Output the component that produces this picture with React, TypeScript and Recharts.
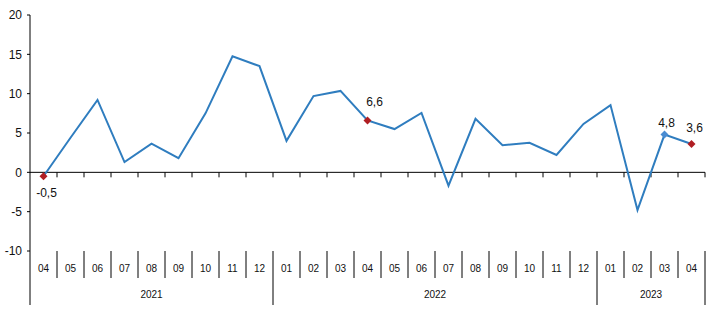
import React from 'react';
import { LineChart, Line, XAxis, YAxis, ReferenceLine } from 'recharts';

const categories = [
  '2021-04', '2021-05', '2021-06', '2021-07', '2021-08', '2021-09', '2021-10', '2021-11', '2021-12',
  '2022-01', '2022-02', '2022-03', '2022-04', '2022-05', '2022-06', '2022-07', '2022-08', '2022-09',
  '2022-10', '2022-11', '2022-12', '2023-01', '2023-02', '2023-03', '2023-04',
];
const values = [
  -0.5, 4.4, 9.2, 1.3, 3.65, 1.8, 7.5, 14.75, 13.5,
  4.0, 9.7, 10.35, 6.6, 5.5, 7.55, -1.7, 6.8, 3.45,
  3.75, 2.2, 6.15, 8.55, -4.8, 4.8, 3.6,
];
const highlighted = ['2021-04', '2022-04', '2023-03', '2023-04'];
const yTicks = [-10, -5, 0, 5, 10, 15, 20];

const data = categories.map((cat, i) => ({ cat, value: values[i] }));

const W = 717;
const H = 312;
const MARGIN = { top: 15, right: 12, bottom: 0, left: 0 };
const Y_AXIS_W = 30;
const X_AXIS_H = 61;
const PLOT_W = W - MARGIN.left - MARGIN.right - Y_AXIS_W;
const PLOT_BOTTOM = H - MARGIN.bottom - X_AXIS_H;
const BAND = PLOT_W / categories.length;
const FONT = 'Arial, "Liberation Sans", sans-serif';
const LINE_COLOR = '#2F7DBF';
const RED = '#B01E23';
const BLUE = '#4A8CD2';

// per-point label tweaks
const markerStyle: Record<string, { color: string; dx: number; dy: number }> = {
  '2021-04': { color: RED, dx: 3, dy: 17 },
  '2022-04': { color: RED, dx: 7, dy: -18 },
  '2023-03': { color: BLUE, dx: 2, dy: -12 },
  '2023-04': { color: RED, dx: 3, dy: -16 },
};

const fmt = (v: number) => v.toFixed(1).replace('.', ',');

function Dot(props: any) {
  const { cx, cy, payload } = props;
  if (!highlighted.includes(payload.cat)) return <g />;
  const s = markerStyle[payload.cat];
  const r = 4;
  return (
    <g>
      <path d={`M${cx},${cy - r}L${cx + r},${cy}L${cx},${cy + r}L${cx - r},${cy}Z`} fill={s.color} />
      <text x={cx + s.dx} y={cy + s.dy} textAnchor="middle" dominantBaseline="central" fontSize={12} fontFamily={FONT} fill="#111">
        {fmt(payload.value)}
      </text>
    </g>
  );
}

function MonthTick(props: any) {
  const { x, payload } = props;
  const index = payload.index;
  const [year, month] = categories[index].split('-');
  const last = index === categories.length - 1;
  const yearEnd = last || categories[index + 1].split('-')[0] !== year;
  const yearStart = index === 0 || categories[index - 1].split('-')[0] !== year;
  const count = categories.filter((c) => c.startsWith(year)).length;
  const top = PLOT_BOTTOM;
  return (
    <g>
      <text x={x} y={top + 17} textAnchor="middle" dominantBaseline="central" fontSize={10} fontFamily={FONT} fill="#111">
        {month}
      </text>
      {index === 0 && <line x1={x - BAND / 2} x2={x - BAND / 2} y1={top} y2={top + 54} stroke="#000" />}
      <line x1={x + BAND / 2} x2={x + BAND / 2} y1={top} y2={yearEnd ? top + 54 : top + 27} stroke="#000" />
      {yearStart && (
        <text x={x - BAND / 2 + (count * BAND) / 2} y={top + 43} textAnchor="middle" dominantBaseline="central" fontSize={10} fontFamily={FONT} fill="#111">
          {year}
        </text>
      )}
    </g>
  );
}

function ZeroAxis(props: any) {
  const { x1, x2, y1 } = props;
  const n = categories.length;
  const step = (x2 - x1) / n;
  return (
    <g>
      <line x1={x1} x2={x2} y1={y1} y2={y1} stroke="#000" strokeWidth={1} />
      {categories.map((c, i) => (
        <line key={c} x1={x1 + (i + 1) * step} x2={x1 + (i + 1) * step} y1={y1} y2={y1 + 5} stroke="#000" />
      ))}
    </g>
  );
}

export default function App() {
  return (
    <div style={{ position: 'absolute', left: 0, top: 0, width: W, height: H, background: '#fff' }}>
      <LineChart width={W} height={H} data={data} margin={MARGIN}>
        <XAxis
          dataKey="cat"
          scale="band"
          interval={0}
          axisLine={false}
          tickLine={false}
          height={X_AXIS_H}
          tick={<MonthTick />}
        />
        <YAxis
          width={Y_AXIS_W}
          domain={[-10, 20]}
          ticks={yTicks}
          interval={0}
          stroke="#000"
          tickSize={3}
          tickMargin={5}
          tick={{ fill: '#111', fontSize: 12, fontFamily: FONT }}
        />
        <ReferenceLine y={0} shape={<ZeroAxis />} />
        <Line
          type="linear"
          dataKey="value"
          stroke={LINE_COLOR}
          strokeWidth={2}
          dot={<Dot />}
          activeDot={false}
          isAnimationActive={false}
        />
      </LineChart>
    </div>
  );
}
